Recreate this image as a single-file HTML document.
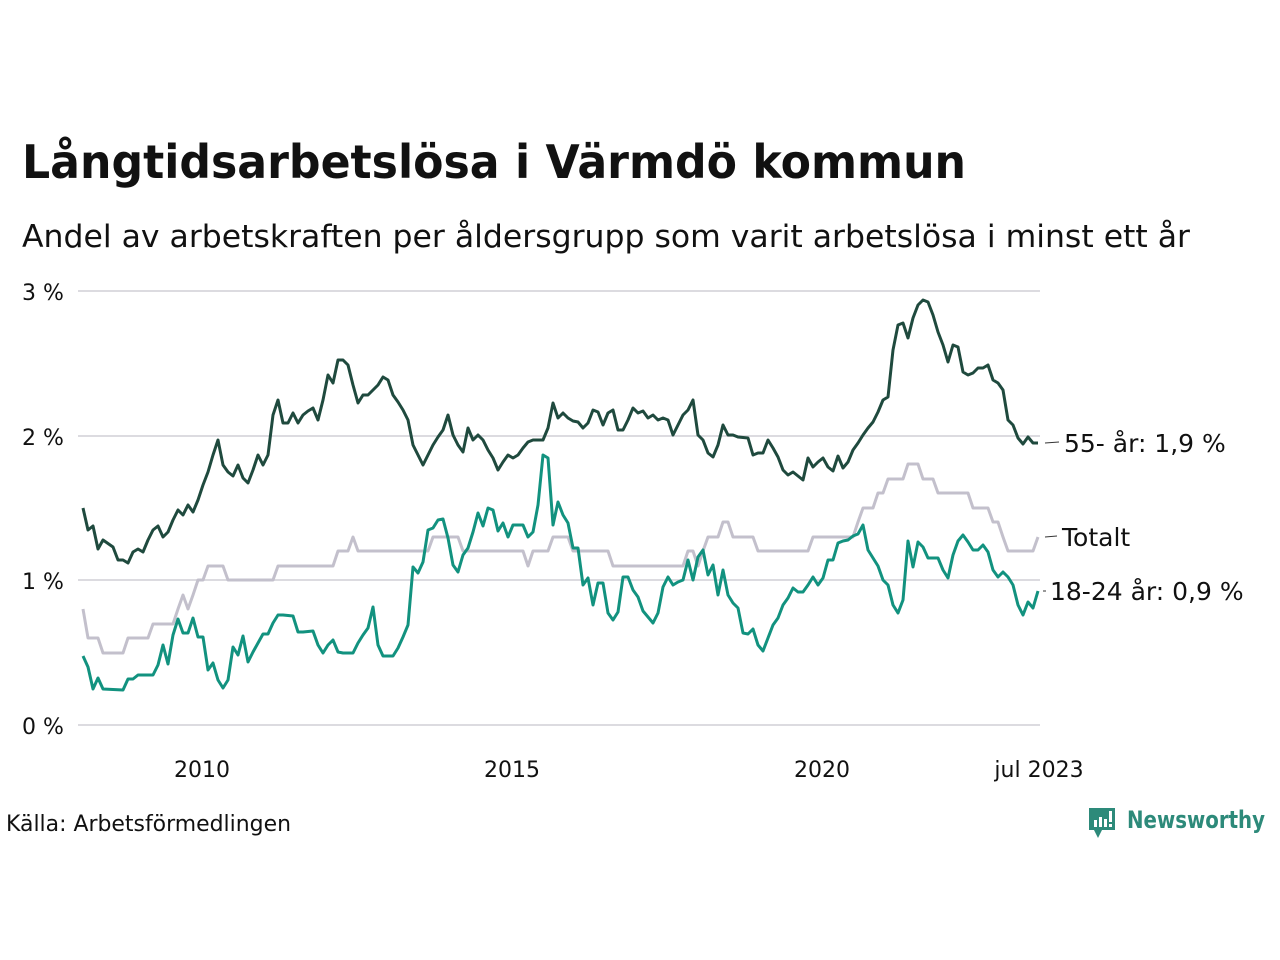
<!DOCTYPE html>
<html><head><meta charset="utf-8"><style>
html,body{margin:0;padding:0;background:#fff}
svg{display:block}
text{font-family:"DejaVu Sans","Liberation Sans",sans-serif;fill:#111}
</style></head><body>
<svg width="1280" height="960" viewBox="0 0 1280 960">
<text x="22" y="178" font-size="46" font-weight="bold" textLength="944" lengthAdjust="spacingAndGlyphs">Långtidsarbetslösa i Värmdö kommun</text>
<text x="22" y="247" font-size="31" textLength="1168" lengthAdjust="spacingAndGlyphs">Andel av arbetskraften per åldersgrupp som varit arbetslösa i minst ett år</text>
<g stroke="#dcdbe0" stroke-width="2">
<line x1="78" y1="291" x2="1040" y2="291"/><line x1="78" y1="436" x2="1040" y2="436"/>
<line x1="78" y1="580" x2="1040" y2="580"/><line x1="78" y1="725" x2="1040" y2="725"/>
</g>
<g font-size="22">
<text x="22" y="300">3 %</text><text x="22" y="445">2 %</text><text x="22" y="589">1 %</text><text x="22" y="734">0 %</text>
<text x="202" y="777" text-anchor="middle">2010</text><text x="512" y="777" text-anchor="middle">2015</text>
<text x="822" y="777" text-anchor="middle">2020</text><text x="1039" y="777" text-anchor="middle">jul 2023</text>
</g>
<g fill="none" stroke-width="3" stroke-linejoin="round">
<polyline stroke="#c3c0cc" points="83,609 88,638 98,638 103,653 123,653 128,638 148,638 153,624 173,624 178,609 183,595 188,609 193,595 198,580 203,580 208,566 223,566 228,580 273,580 278,566 333,566 338,551 348,551 353,537 358,551 428,551 433,537 458,537 463,551 523,551 528,566 533,551 548,551 553,537 568,537 573,551 608,551 613,566 683,566 688,551 693,551 698,566 703,551 708,537 718,537 723,522 728,522 733,537 753,537 758,551 808,551 813,537 853,537 858,522 863,508 873,508 878,493 883,493 888,479 903,479 908,464 918,464 923,479 933,479 938,493 968,493 973,508 988,508 993,522 998,522 1003,537 1008,551 1033,551 1038,537"/>
<polyline stroke="#12927f" points="83,656 88,667 93,689 98,678 103,689 123,690 128,679 133,679 138,675 153,675 158,665 163,645 168,664 173,635 178,619 183,633 188,633 193,618 198,637 203,637 208,670 213,663 218,680 223,688 228,680 233,647 238,655 243,636 248,662 253,652 258,643 263,634 268,634 273,623 278,615 283,615 293,616 298,632 303,632 313,631 318,645 323,653 328,645 333,640 338,652 343,653 353,653 358,643 363,635 368,628 373,607 378,645 383,656 393,656 398,648 403,637 408,625 413,567 418,573 423,562 428,530 433,528 438,520 443,519 448,538 453,565 458,572 463,555 468,548 473,532 478,513 483,526 488,508 493,510 498,531 503,523 508,537 513,525 523,525 528,537 533,532 538,505 543,455 548,458 553,525 558,502 563,515 568,523 573,548 578,548 583,585 588,578 593,605 598,583 603,583 608,613 613,620 618,612 623,577 628,577 633,590 638,597 643,611 648,617 653,623 658,613 663,587 668,577 673,585 678,582 683,580 688,560 693,580 698,557 703,550 708,575 713,565 718,595 723,570 728,595 733,603 738,608 743,633 748,634 753,629 758,645 763,651 768,638 773,625 778,618 783,605 788,598 793,588 798,592 803,592 808,585 813,577 818,585 823,578 828,560 833,560 838,543 843,541 848,540 853,536 858,534 863,525 868,550 873,558 878,566 883,580 888,585 893,605 898,613 903,600 908,541 913,567 918,542 923,547 928,558 938,558 943,570 948,578 953,555 958,541 963,535 968,542 973,550 978,550 983,545 988,552 993,570 998,577 1003,572 1008,577 1013,585 1018,605 1023,615 1028,602 1033,608 1038,591"/>
<polyline stroke="#1f4a3e" points="83,508 88,530 93,526 98,549 103,540 113,547 118,560 123,560 128,563 133,552 138,549 143,552 148,540 153,530 158,526 163,537 168,532 173,520 178,510 183,515 188,505 193,512 198,500 203,485 208,472 213,455 218,440 223,465 228,472 233,476 238,465 243,478 248,483 253,470 258,455 263,465 268,455 273,415 278,400 283,423 288,423 293,413 298,423 303,415 308,411 313,408 318,420 323,400 328,375 333,383 338,360 343,360 348,365 353,385 358,403 363,395 368,395 373,390 378,385 383,377 388,380 393,395 398,402 403,410 408,420 413,445 418,455 423,465 428,455 433,445 438,437 443,430 448,415 453,435 458,445 463,452 468,428 473,440 478,435 483,440 488,450 493,458 498,470 503,462 508,455 513,458 518,455 523,448 528,442 533,440 543,440 548,428 553,403 558,418 563,413 568,418 573,421 578,422 583,428 588,423 593,410 598,412 603,425 608,413 613,410 618,430 623,430 628,420 633,408 638,413 643,411 648,418 653,415 658,420 663,418 668,420 673,435 678,425 683,415 688,410 693,400 698,435 703,440 708,453 713,457 718,445 723,425 728,435 733,435 738,437 748,438 753,455 758,453 763,453 768,440 773,448 778,457 783,470 788,475 793,472 798,476 803,480 808,458 813,467 818,462 823,458 828,467 833,471 838,456 843,468 848,462 853,450 858,443 863,435 868,428 873,422 878,412 883,400 888,397 893,350 898,325 903,323 908,338 913,318 918,305 923,300 928,302 933,315 938,332 943,345 948,362 953,345 958,347 963,372 968,375 973,373 978,368 983,368 988,365 993,380 998,383 1003,390 1008,420 1013,425 1018,438 1023,444 1028,437 1033,443 1038,443"/>
</g>
<g stroke="#333" stroke-width="1">
<line x1="1045" y1="443" x2="1059" y2="442"/><line x1="1045" y1="537" x2="1057" y2="536"/><line x1="1043" y1="591" x2="1046" y2="591"/>
</g>
<g font-size="25">
<text x="1064" y="452">55- år: 1,9 %</text>
<text x="1062" y="546">Totalt</text>
<text x="1050" y="600">18-24 år: 0,9 %</text>
</g>
<text x="6" y="831" font-size="22" textLength="285" lengthAdjust="spacingAndGlyphs">Källa: Arbetsförmedlingen</text>
<g>
<path d="M1089,808 h26 v22 h-13 l-4,8 l-4,-8 h-5 z" fill="#2d8a7a"/>
<rect x="1094" y="820" width="3" height="7" fill="#fff"/><rect x="1099" y="817" width="3" height="10" fill="#fff"/><rect x="1104" y="819" width="3" height="8" fill="#fff"/><rect x="1109" y="811" width="3" height="11" fill="#fff"/><rect x="1109" y="824" width="3" height="3" fill="#fff"/>
<text x="1127" y="828" font-size="24" font-weight="bold" style="fill:#2d8a7a" textLength="138" lengthAdjust="spacingAndGlyphs">Newsworthy</text>
</g>
</svg>
</body></html>
